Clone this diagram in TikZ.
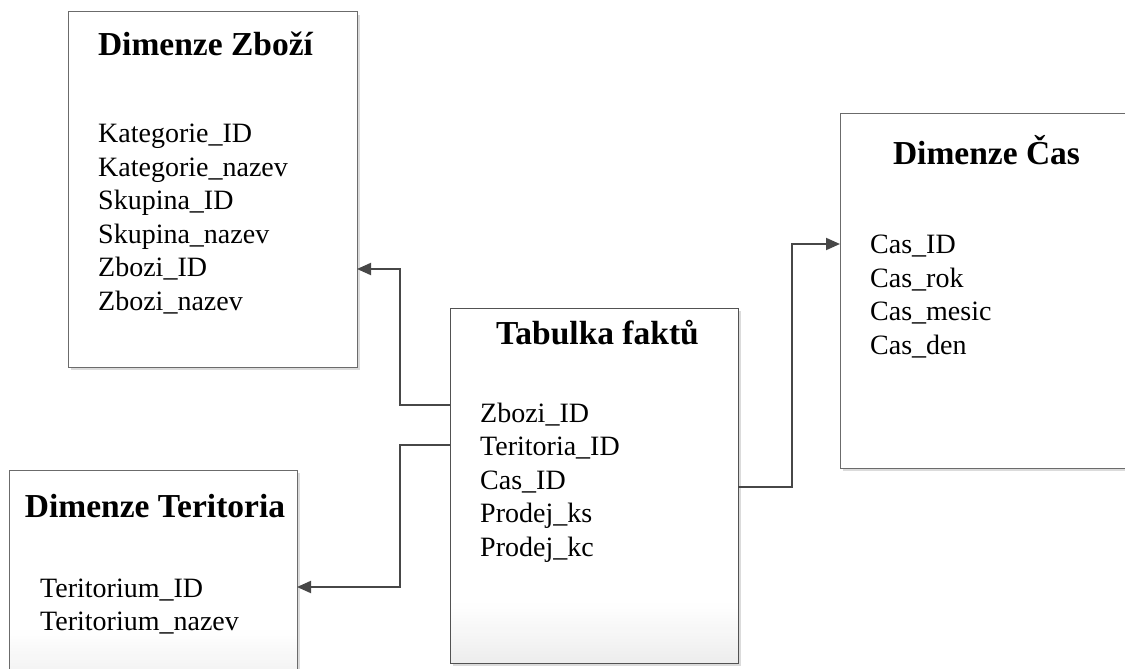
\documentclass[tikz,border=0pt]{standalone}
\usepackage{fontspec}
\setmainfont{Liberation Serif}
\usetikzlibrary{arrows.meta,shadows}

\tikzset{
  tbl/.style={draw=black!58, line width=1pt, fill=white, anchor=north west,
    inner sep=0pt, outer sep=0pt,
    drop shadow={shadow xshift=3pt, shadow yshift=-3pt, fill=black!14, opacity=1}},
  % soft grey fade along the lower edge, built from thin strips
  fadebottom/.style={path picture={
    \foreach \k in {0,...,19}{
      \pgfmathsetmacro{\ya}{60-3*\k}
      \pgfmathsetmacro{\yb}{56.5-3*\k}
      \pgfmathsetmacro{\c}{7*(\k+0.5)/20}
      \fill[black!\c]
        ([yshift=\ya pt]path picture bounding box.south west)
        rectangle ([yshift=\yb pt]path picture bounding box.south east);
    }}},
  ttl/.style={font=\fontsize{33.5}{40}\selectfont\bfseries, anchor=base, inner sep=0pt},
  fld/.style={font=\fontsize{28}{33.6}\selectfont, anchor=base west, inner sep=0pt},
  conn/.style={draw=black!72, line width=2pt, -{Triangle[length=14pt,width=12pt]}},
}

\begin{document}
\begin{tikzpicture}[x=1pt,y=-1pt]
\useasboundingbox (0,0) rectangle (1125,669);

% table boxes
\node[tbl, minimum width=289pt, minimum height=355pt] (zbozi) at (68,12) {};
\node[tbl, fadebottom, draw=black!68, minimum width=288pt, minimum height=355pt] (fakt) at (450,308) {};
\node[tbl, minimum width=295pt, minimum height=355pt] (cas) at (840,113) {};
\node[tbl, fadebottom, minimum width=288pt, minimum height=220pt] (teritoria) at (9,470) {};

% titles
\node[ttl] (tz) at (205.5,56) {Dimenze Zboží};
\node[ttl] (tf) at (597.5,344) {Tabulka faktů};
\node[ttl] (tc) at (986.5,164) {Dimenze Čas};
\node[ttl] (tt) at (155,517) {Dimenze Teritoria};

% fields
\foreach \t [count=\i] in {Kategorie\_ID, Kategorie\_nazev, Skupina\_ID,
    Skupina\_nazev, Zbozi\_ID, Zbozi\_nazev}
  \node[fld] (fz\i) at (98, 109+33.5*\i) {\t};
\foreach \t [count=\i] in {Zbozi\_ID, Teritoria\_ID, Cas\_ID, Prodej\_ks, Prodej\_kc}
  \node[fld] (ff\i) at (480, 388.5+33.5*\i) {\t};
\foreach \t [count=\i] in {Cas\_ID, Cas\_rok, Cas\_mesic, Cas\_den}
  \node[fld] (fc\i) at (870, 220+33.5*\i) {\t};
\foreach \t [count=\i] in {Teritorium\_ID, Teritorium\_nazev}
  \node[fld] (ft\i) at (40, 563.5+33.5*\i) {\t};

% relations
\draw[conn] (fakt.west |- 0,405) -- (400,405) -- (400,269) -- (zbozi.east |- 0,269);
\draw[conn] (fakt.west |- 0,445) -- (400,445) -- (400,587) -- (teritoria.east |- 0,587);
\draw[conn] (fakt.east |- 0,487) -- (792,487) -- (792,244) -- (cas.west |- 0,244);
\end{tikzpicture}
\end{document}
